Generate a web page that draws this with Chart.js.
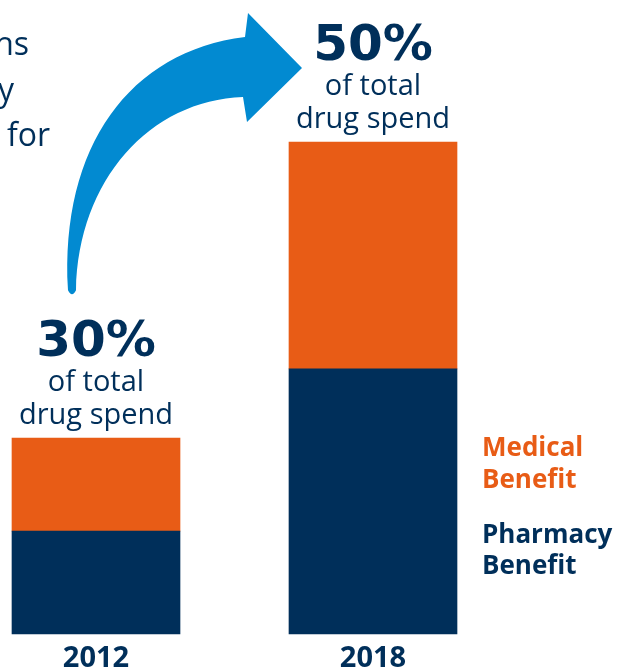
<!DOCTYPE html>
<html>
<head>
<meta charset="utf-8">
<script src="https://cdn.jsdelivr.net/npm/chart.js@4"></script>
<style>
  html, body { margin: 0; padding: 0; background: #fff; }
  #wrap { width: 628px; height: 671px; position: relative; }
</style>
</head>
<body>
<div id="wrap"><canvas id="drugChart"></canvas></div>
<script>
// Drug spend split, indexed so 2018 total = 100
const years = ['2012', '2018'];
const pharmacyBenefit = [20.9, 53.9];
const medicalBenefit = [18.9, 46.1];
const shareOfSpend = ['30%', '50%'];
const shareCaption = ['of total', 'drug spend'];
const legendMedical = ['Medical', 'Benefit'];
const legendPharmacy = ['Pharmacy', 'Benefit'];
const introFragments = ['ns', 'y', 'for'];

const NAVY = '#002f5a';
const ORANGE = '#e85c16';
const BLUE = '#028ad1';

// Text, arrow and legend drawn on top of the bars
const decorPlugin = {
    id: 'decor',
    afterDatasetsDraw(chart) {
        const ctx = chart.ctx;
        const top0 = chart.getDatasetMeta(1).data[0];
        const top1 = chart.getDatasetMeta(1).data[1];
        const area = chart.chartArea;

        ctx.save();

        // cut-off intro text on the left
        ctx.fillStyle = NAVY;
        ctx.font = '32px "Open Sans"';
        ctx.textAlign = 'right';
        ctx.textBaseline = 'alphabetic';
        ctx.fillText(introFragments[0], 29, 55);
        ctx.fillText(introFragments[1], 14, 101);
        ctx.fillText(introFragments[2], 50, 146);

        // share labels above each bar
        [top0, top1].forEach((bar, i) => {
            ctx.textAlign = 'center';
            ctx.fillStyle = NAVY;
            ctx.font = 'bold 50px "DejaVu Sans"';
            ctx.fillText(shareOfSpend[i], bar.x, bar.y - 82);
            ctx.font = '29px "Open Sans"';
            ctx.fillText(shareCaption[0], bar.x, bar.y - 47);
            ctx.fillText(shareCaption[1], bar.x, bar.y - 14);
        });

        // year labels under the bars
        ctx.font = 'bold 29px "Open Sans"';
        ctx.fillStyle = NAVY;
        years.forEach((y, i) => {
            const bar = chart.getDatasetMeta(0).data[i];
            ctx.fillText(y, bar.x, area.bottom + 33);
        });

        // legend on the right
        const lx = area.right + 109;
        ctx.textAlign = 'left';
        ctx.font = 'bold 26px "Open Sans"';
        ctx.fillStyle = ORANGE;
        ctx.fillText(legendMedical[0], lx, 456);
        ctx.fillText(legendMedical[1], lx, 488);
        ctx.fillStyle = NAVY;
        ctx.fillText(legendPharmacy[0], lx, 543);
        ctx.fillText(legendPharmacy[1], lx, 574);

        // curved arrow from 2012 label up to 2018 label
        const tx = top0.x - 24, ty = top0.y - 142;   // tail tip
        const hx = top1.x - 71, hy = top1.y - 74;    // head tip
        ctx.fillStyle = BLUE;
        ctx.beginPath();
        ctx.moveTo(tx - 4, ty - 6);
        ctx.bezierCurveTo(tx - 12, ty - 150, tx + 58, ty - 245, hx - 57, hy - 31);
        ctx.lineTo(hx - 54, hy - 55);
        ctx.lineTo(hx, hy);
        ctx.lineTo(hx - 55, hy + 54);
        ctx.lineTo(hx - 59, hy + 29);
        ctx.bezierCurveTo(tx + 78, ty - 196, tx + 6, ty - 116, tx + 4, ty - 6);
        ctx.quadraticCurveTo(tx, ty + 2, tx - 4, ty - 6);
        ctx.closePath();
        ctx.fill();

        ctx.restore();
    }
};

const chart = new Chart(document.getElementById('drugChart'), {
    type: 'bar',
    data: {
        labels: years,
        datasets: [
            {
                label: legendPharmacy.join(' '),
                data: pharmacyBenefit,
                backgroundColor: NAVY,
                borderWidth: 0,
                barThickness: 168,
                clip: false
            },
            {
                label: legendMedical.join(' '),
                data: medicalBenefit,
                backgroundColor: ORANGE,
                borderWidth: 0,
                barThickness: 168,
                clip: false
            }
        ]
    },
    options: {
        responsive: true,
        maintainAspectRatio: false,
        animation: false,
        layout: {
            padding: { top: 142, bottom: 37, left: 96, right: 255 }
        },
        scales: {
            x: { stacked: true, offset: false, display: false },
            y: { stacked: true, min: 0, max: 100, display: false }
        },
        plugins: {
            legend: { display: false },
            tooltip: { enabled: false }
        }
    },
    plugins: [decorPlugin]
});
</script>
</body>
</html>
